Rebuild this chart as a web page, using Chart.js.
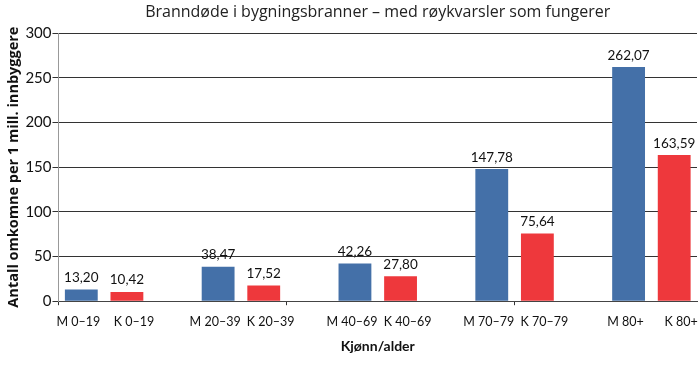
<!DOCTYPE html>
<html>
<head>
<meta charset="utf-8">
<script src="https://cdn.jsdelivr.net/npm/chart.js@4"></script>
<style>
    html, body { margin: 0; padding: 0; background: #fff; }
    #wrap { width: 700px; height: 374px; }
</style>
</head>
<body>
<div id="wrap"><canvas id="chart"></canvas></div>
<script>
// Categories, with empty slots as spacing between the age groups
const categories = ['M 0–19', 'K 0–19', '', 'M 20–39', 'K 20–39', '', 'M 40–69', 'K 40–69', '',
    'M 70–79', 'K 70–79', '', 'M 80+', 'K 80+'];
const maleValues = [13.20, 38.47, 42.26, 147.78, 262.07];
const femaleValues = [10.42, 17.52, 27.80, 75.64, 163.59];
const yTicks = [0, 50, 100, 150, 200, 250, 300];
const chartTitle = 'Branndøde i bygningsbranner – med røykvarsler som fungerer';

const MALE_COLOR = '#4470a8';
const FEMALE_COLOR = '#ee383c';
const FONT = 'Lato, "Open Sans", sans-serif';
const WIDE_FONT = '"Open Sans", Lato, sans-serif';

/**
 * Spread the two series over the category slots.
 */
function buildValues() {
    const values = [];
    const colors = [];
    let group = 0;
    categories.forEach(label => {
        if (label.startsWith('M ')) {
            values.push(maleValues[group]);
            colors.push(MALE_COLOR);
        } else if (label.startsWith('K ')) {
            values.push(femaleValues[group]);
            colors.push(FEMALE_COLOR);
            group++;
        } else {
            values.push(null);
            colors.push('rgba(0,0,0,0)');
        }
    });
    return {values, colors};
}

// Value labels above the bars, category labels nudged apart, title centred on the plot
const annotations = {
    id: 'annotations',
    afterDraw(chart) {
        const ctx = chart.ctx;
        const area = chart.chartArea;
        const meta = chart.getDatasetMeta(0);
        const xScale = chart.scales.x;
        ctx.save();
        ctx.fillStyle = '#111';
        ctx.textAlign = 'center';

        ctx.font = '13.5px ' + FONT;
        ctx.textBaseline = 'bottom';
        meta.data.forEach((bar, i) => {
            const v = chart.data.datasets[0].data[i];
            if (v === null) return;
            ctx.fillText(v.toFixed(2).replace('.', ','), bar.x, bar.y - 5);
        });

        // Male labels lean left, female labels lean right, so they do not collide
        ctx.font = '12.5px ' + FONT;
        ctx.textBaseline = 'middle';
        const labelY = area.bottom + 21;
        categories.forEach((label, i) => {
            if (!label) return;
            const shift = label.startsWith('M ') ? -3 : 7;
            const w = ctx.measureText(label).width;
            let x = xScale.getPixelForTick(i) + shift;
            x = Math.min(x, chart.width - w / 2 - 1);
            ctx.fillText(label, x, labelY);
        });

        ctx.font = '16px ' + WIDE_FONT;
        ctx.fillStyle = '#222';
        ctx.fillText(chartTitle, (area.left + area.right) / 2, 12);
        ctx.restore();
    }
};

document.addEventListener('DOMContentLoaded', function() {
    const built = buildValues();
    const ctx = document.getElementById('chart').getContext('2d');
    new Chart(ctx, {
        type: 'bar',
        data: {
            labels: categories,
            datasets: [{
                data: built.values,
                backgroundColor: built.colors,
                categoryPercentage: 1,
                barPercentage: 0.72
            }]
        },
        options: {
            responsive: true,
            maintainAspectRatio: false,
            animation: false,
            layout: { padding: { left: 5, right: 3, top: 33, bottom: 15 } },
            plugins: {
                legend: { display: false },
                tooltip: { enabled: false },
                title: { display: false }
            },
            scales: {
                x: {
                    grid: {
                        drawOnChartArea: false,
                        tickLength: 4,
                        color: ctx => (ctx.index % 5 === 0 ? '#333' : 'rgba(0,0,0,0)')
                    },
                    border: { color: '#444', width: 1 },
                    ticks: {
                        // drawn by the annotations plugin, kept here for spacing
                        color: 'rgba(0,0,0,0)',
                        font: { family: FONT, size: 12.5 },
                        maxRotation: 0,
                        autoSkip: false,
                        padding: 8
                    },
                    title: {
                        display: true,
                        text: 'Kjønn/alder',
                        color: '#111',
                        font: { family: FONT, size: 14, weight: 'bold' },
                        padding: { top: 2 }
                    }
                },
                y: {
                    min: 0,
                    max: 300,
                    afterBuildTicks: axis => {
                        axis.ticks = yTicks.map(v => ({value: v}));
                    },
                    grid: { color: '#333', lineWidth: 1, tickLength: 6 },
                    border: { color: '#999', width: 1 },
                    ticks: {
                        color: '#111',
                        font: { family: FONT, size: 15 },
                        padding: 1
                    },
                    title: {
                        display: true,
                        text: 'Antall omkomne per 1 mill. innbyggere',
                        color: '#111',
                        font: { family: WIDE_FONT, size: 14.5, weight: 'bold' },
                        padding: { top: 0, bottom: 2 }
                    }
                }
            }
        },
        plugins: [annotations]
    });
});
</script>
</body>
</html>
